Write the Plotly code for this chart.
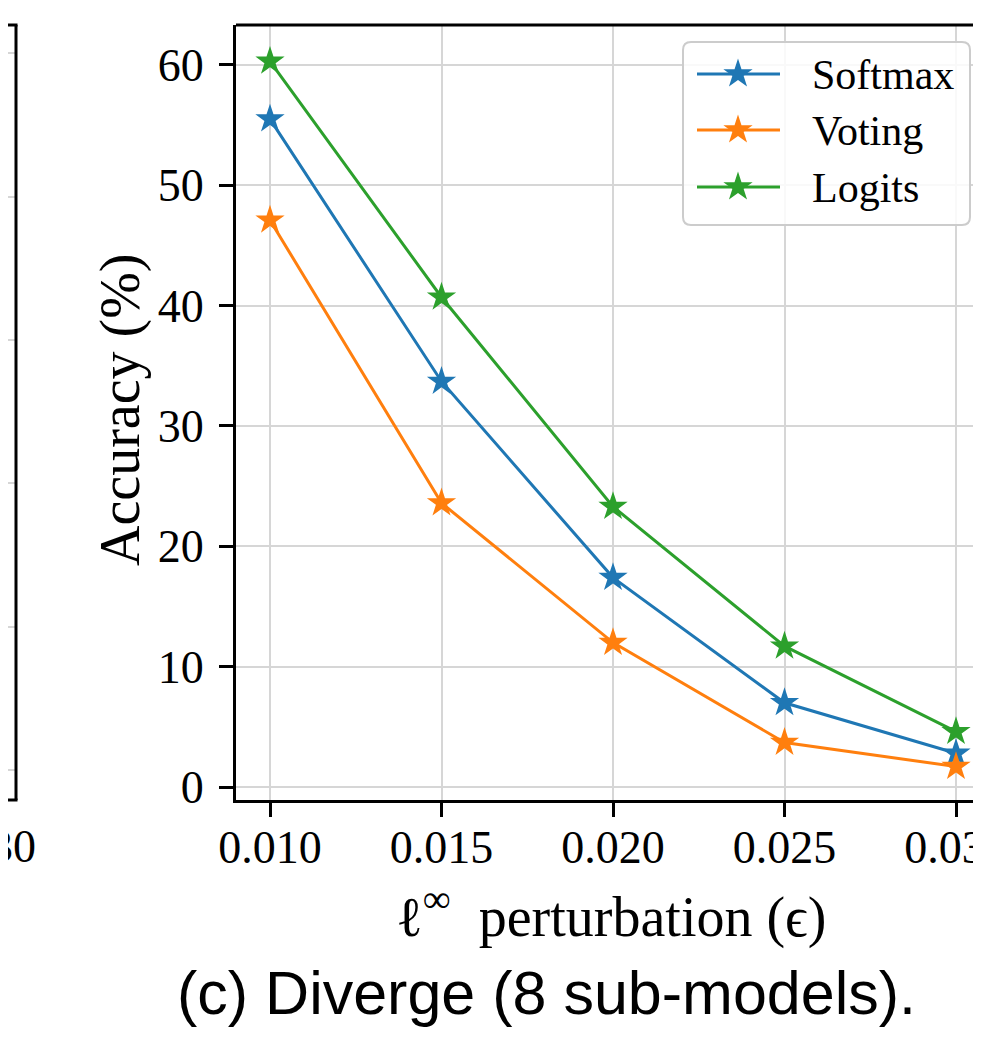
import plotly.graph_objects as go

# ---------------- data ----------------
eps = [0.010, 0.015, 0.020, 0.025, 0.030]
softmax = [55.5, 33.7, 17.4, 7.0, 2.8]
voting = [47.1, 23.6, 12.0, 3.7, 1.7]
logits = [60.3, 40.7, 23.3, 11.7, 4.6]
series_names = ["Softmax", "Voting", "Logits"]
series_colors = ["#1f77b4", "#ff7f0e", "#2ca02c"]
x_tickvals = [0.010, 0.015, 0.020, 0.025, 0.030]
x_ticktext = ["0.010", "0.015", "0.020", "0.025", "0.030"]
y_tickvals = [0, 10, 20, 30, 40, 50, 60]
left_panel_label = "30"

# page geometry: the browser body keeps an 8px margin, so the figure is made
# to fit inside the window; x2/y2 below map directly to window pixels.
WIN_W, WIN_H, OFF = 981, 1045, 8
W, H = WIN_W - 2 * OFF, WIN_H - 2 * OFF
SERIF = "Liberation Serif, Times New Roman, serif"
SANS = "Liberation Sans, Arial, sans-serif"

fig = go.Figure()

for name, vals, col in zip(series_names, [softmax, voting, logits], series_colors):
    fig.add_trace(go.Scatter(
        x=eps, y=vals, mode="lines+markers", name=name,
        line=dict(color=col, width=3),
        marker=dict(symbol="star", size=22, color=col, line=dict(width=0)),
        showlegend=False, xaxis="x", yaxis="y",
    ))

# ---- custom legend drawn in a pixel-space overlay subplot (x2/y2) ----
leg_y = [74, 130, 187]
for name, col, ly in zip(series_names, series_colors, leg_y):
    fig.add_trace(go.Scatter(
        x=[697, 780], y=[ly, ly], mode="lines",
        line=dict(color=col, width=3), showlegend=False,
        xaxis="x2", yaxis="y2", hoverinfo="skip",
    ))
    fig.add_trace(go.Scatter(
        x=[738], y=[ly], mode="markers",
        marker=dict(symbol="star", size=22, color=col, line=dict(width=0)),
        showlegend=False, xaxis="x2", yaxis="y2", hoverinfo="skip",
    ))

axis_common = dict(
    showline=True, linecolor="black", linewidth=3,
    ticks="outside", ticklen=14, tickwidth=3, tickcolor="black",
    showgrid=True, gridcolor="#d6d6d6", gridwidth=2,
    zeroline=False, automargin=False,
    tickfont=dict(family=SERIF, size=46, color="black"),
)

# main plot area in window pixels: left 236, top 25, bottom 800 (right edge cropped)
px_per_unit_x = (956 - 270) / 0.020
x_lo = 0.010 - (270 - 236) / px_per_unit_x
x_hi = 0.030 + ((OFF + W) - 956) / px_per_unit_x

fig.update_layout(
    template="none",
    width=W, height=H,
    autosize=False,
    margin=dict(l=0, r=0, t=0, b=0, pad=0),
    paper_bgcolor="white",
    plot_bgcolor="rgba(0,0,0,0)",
    showlegend=False,
    xaxis=dict(
        domain=[(236 - OFF) / W, 1.0],
        range=[x_lo, x_hi],
        tickvals=x_tickvals, ticktext=x_ticktext,
        ticklabelstandoff=-9,
        ticklabeloverflow="allow",
        anchor="y",
        **axis_common,
    ),
    yaxis=dict(
        domain=[1 - (800 - OFF) / H, 1 - (25 - OFF) / H],
        range=[-1.08, 63.32],
        tickvals=y_tickvals,
        ticklabelstandoff=6,
        anchor="x",
        **axis_common,
    ),
    xaxis2=dict(domain=[0, 1], range=[OFF, OFF + W], visible=False, anchor="y2",
                fixedrange=True, automargin=False),
    yaxis2=dict(domain=[0, 1], range=[OFF + H, OFF], visible=False, anchor="x2",
                fixedrange=True, automargin=False),
)

shapes = []
# top frame line of the main panel (right edge is cropped away)
shapes.append(dict(type="line", xref="x2", yref="y2", x0=236, x1=WIN_W + 5, y0=25, y1=25,
                   line=dict(color="black", width=3), layer="above"))
# cropped neighbouring panel at far left
for gy in [53, 197, 340, 483, 627, 770]:
    shapes.append(dict(type="line", xref="x2", yref="y2", x0=0, x1=15, y0=gy, y1=gy,
                       line=dict(color="#d6d6d6", width=2), layer="above"))
shapes.append(dict(type="line", xref="x2", yref="y2", x0=16, x1=16, y0=25, y1=800,
                   line=dict(color="black", width=3), layer="above"))
shapes.append(dict(type="line", xref="x2", yref="y2", x0=0, x1=17.5, y0=25, y1=25,
                   line=dict(color="black", width=3), layer="above"))
shapes.append(dict(type="line", xref="x2", yref="y2", x0=0, x1=17.5, y0=800, y1=800,
                   line=dict(color="black", width=3), layer="above"))

# legend box with rounded corners
x0, x1, y0, y1, r = 683, 970, 42, 225, 8
path = (f"M {x0+r},{y0} L {x1-r},{y0} Q {x1},{y0} {x1},{y0+r} "
        f"L {x1},{y1-r} Q {x1},{y1} {x1-r},{y1} L {x0+r},{y1} "
        f"Q {x0},{y1} {x0},{y1-r} L {x0},{y0+r} Q {x0},{y0} {x0+r},{y0} Z")
shapes.append(dict(type="path", xref="x2", yref="y2", path=path,
                   fillcolor="rgba(255,255,255,0.85)",
                   line=dict(color="#cccccc", width=2), layer="between"))

fig.update_layout(shapes=shapes)

annotations = []
for name, ly in zip(series_names, leg_y):
    annotations.append(dict(xref="x2", yref="y2", x=810, y=ly + 1, text=name,
                            xanchor="left", yanchor="middle", showarrow=False,
                            font=dict(family=SERIF, size=42, color="black")))
annotations.append(dict(xref="x2", yref="y2", x=38, y=846, text=left_panel_label,
                        xanchor="right", yanchor="middle", showarrow=False,
                        font=dict(family=SERIF, size=46, color="black")))
annotations.append(dict(xref="x2", yref="y2", x=120, y=410, text="Accuracy (%)",
                        textangle=-90, xanchor="center", yanchor="middle", showarrow=False,
                        font=dict(family=SERIF, size=56, color="black")))
annotations.append(dict(xref="x2", yref="y2", x=611, y=913,
                        text="ℓ<sup>∞</sup>\u00a0 perturbation (ϵ)",
                        xanchor="center", yanchor="middle", showarrow=False,
                        font=dict(family=SERIF, size=56, color="black")))
annotations.append(dict(xref="x2", yref="y2", x=546, y=993,
                        text="(c) Diverge (8 sub-models).",
                        xanchor="center", yanchor="middle", showarrow=False,
                        font=dict(family=SANS, size=61, color="black")))
fig.update_layout(annotations=annotations)

fig.write_html("out.html")
